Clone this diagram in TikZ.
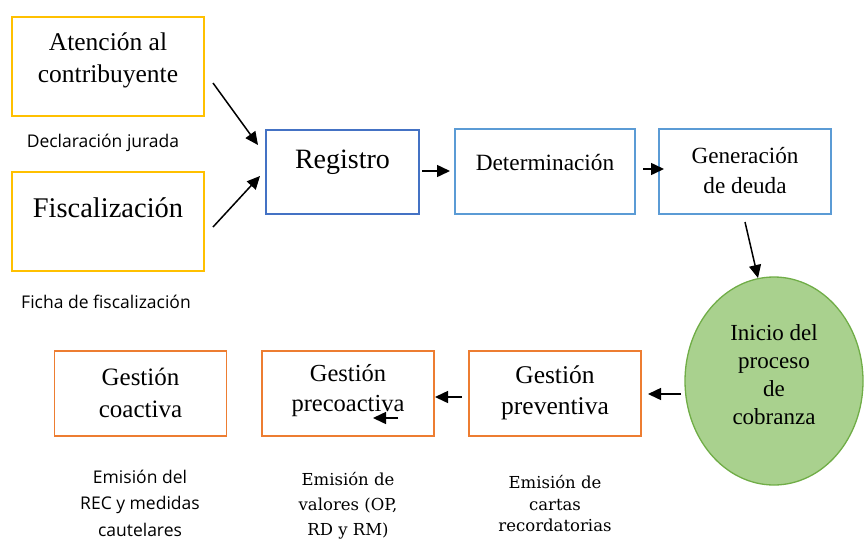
\documentclass[tikz,border=0pt]{standalone}
\usepackage{fontspec}
\setmainfont{Liberation Serif}
\newfontfamily\labsans{Open Sans}
\newfontfamily\labserif{DejaVu Serif}
\usetikzlibrary{arrows.meta,shapes.geometric}
\definecolor{cyel}{HTML}{FFC000}
\definecolor{cblue}{HTML}{4472C4}
\definecolor{clblue}{HTML}{5B9BD5}
\definecolor{corange}{HTML}{ED7D31}
\definecolor{cgreen}{HTML}{A9D18E}
\definecolor{cgreenb}{HTML}{70AD47}
\tikzset{
  boxbase/.style={rectangle, line width=1.5pt, inner sep=0pt},
  ybox/.style={boxbase, draw=cyel, minimum width=192pt, minimum height=99pt},
  bbox/.style={boxbase, draw=cblue, minimum width=153pt, minimum height=84pt},
  lbbox/.style={boxbase, draw=clblue, minimum height=85pt},
  obox/.style={boxbase, draw=corange, minimum width=172pt, minimum height=85pt},
  txt/.style={align=center, inner sep=0pt},
  sanslab/.style={align=center, inner sep=0pt, font=\labsans\fontsize{17.5}{26.5}\selectfont},
  seriflab/.style={align=center, inner sep=0pt, font=\labserif\fontsize{16.5}{25}\selectfont},
  arr/.style={-{Triangle[length=13pt,width=12pt]}, line width=1.5pt, black},
}
\begin{document}
\begin{tikzpicture}[x=1pt,y=-1pt]
\useasboundingbox (0,0) rectangle (864,541);
% boxes
\node[ybox] (aten) at (108,66.5) {};
\node[ybox] (fisc) at (108,221.5) {};
\node[bbox] (reg) at (342.5,172) {};
\node[lbbox, minimum width=180pt] (det) at (545,171.5) {};
\node[lbbox, minimum width=172pt] (gen) at (745,171.5) {};
\node[ellipse, draw=cgreenb, fill=cgreen, line width=1.3pt, minimum width=178pt, minimum height=208pt, inner sep=0pt] (ini) at (774,381) {};
\node[obox] (prev) at (555,393.5) {};
\node[obox] (prec) at (348,393.5) {};
\node[obox] (coac) at (140.5,393.5) {};
% box texts
\node[txt, font=\fontsize{25.5}{32}\selectfont] (tAten) at (108,60) {Atención al\\contribuyente};
\node[txt, font=\fontsize{28.5}{32}\selectfont] (tFisc) at (108,208) {Fiscalización};
\node[txt, font=\fontsize{28}{32}\selectfont] (tReg) at (342.5,162) {Registro};
\node[txt, font=\fontsize{23.3}{30}\selectfont] (tDet) at (545,163) {Determinación};
\node[txt, font=\fontsize{23.2}{30}\selectfont] (tGen) at (745,171) {Generación\\de deuda};
\node[txt, font=\fontsize{23}{28}\selectfont] (tIni) at (774,375) {Inicio del\\proceso\\de\\cobranza};
\node[txt, font=\fontsize{25.5}{31}\selectfont] (tPrev) at (555,393) {Gestión\\preventiva};
\node[txt, font=\fontsize{24.5}{30}\selectfont] (tPrec) at (348,391) {Gestión\\precoactiva};
\node[txt, font=\fontsize{25}{32}\selectfont] (tCoac) at (140.5,393) {Gestión\\coactiva};
% labels
\node[sanslab] (lDec) at (103,143) {Declaración jurada};
\node[sanslab] (lFic) at (106,302) {Ficha de fiscalización};
\node[sanslab] (lRec) at (140,503) {Emisión del\\REC y medidas\\cautelares};
\node[seriflab] (lVal) at (348,506) {Emisión de\\valores (OP,\\RD y RM)};
\node[seriflab, font=\labserif\fontsize{16.5}{21.5}\selectfont] (lCar) at (555,504) {Emisión de\\cartas\\recordatorias};
% connector end points
\coordinate (a1s) at (213,83);  \coordinate (a1e) at (258,145);
\coordinate (a2s) at (213,227); \coordinate (a2e) at (260,176);
\coordinate (a3s) at (422,171); \coordinate (a3e) at (450,171);
\coordinate (a4s) at (643,169); \coordinate (a4e) at (664,169);
\coordinate (a5s) at (745,222); \coordinate (a5e) at (758,278);
\coordinate (a6s) at (681,394); \coordinate (a6e) at (648,394);
\coordinate (a7s) at (462,397); \coordinate (a7e) at (435,397);
\coordinate (a8s) at (398,418); \coordinate (a8e) at (373,418);
\draw[arr] (a1s) -- (a1e);
\draw[arr] (a2s) -- (a2e);
\draw[arr] (a3s) -- (a3e);
\draw[arr] (a4s) -- (a4e);
\draw[arr] (a5s) -- (a5e);
\draw[arr] (a6s) -- (a6e);
\draw[arr] (a7s) -- (a7e);
\draw[arr] (a8s) -- (a8e);
\end{tikzpicture}
\end{document}
